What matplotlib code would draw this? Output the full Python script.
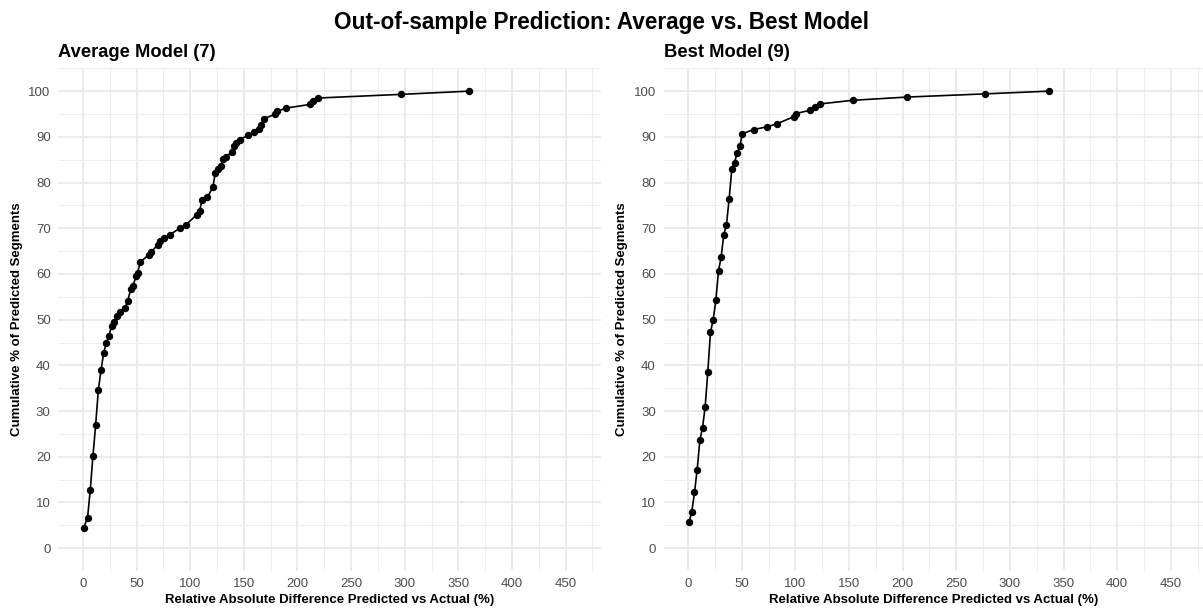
import matplotlib
matplotlib.use("Agg")
import matplotlib.pyplot as plt
from matplotlib.ticker import MultipleLocator

plt.rcParams['font.family'] = ['Liberation Sans', 'DejaVu Sans']

# Average model (7): relative abs difference (%) vs cumulative % of segments
avg_x = [0.6, 4.3, 6.8, 9.3, 11.8, 14.3, 16.8, 19.3, 21.7, 24.2, 26.7, 29.2,
         31.7, 34.2, 39.1, 41.6, 44.7, 46.6, 49.7, 50.9, 53.4, 61.5, 63.4,
         69.6, 72.0, 75.8, 81.4, 90.7, 96.3, 106.2, 108.7, 110.9, 116.1,
         121.1, 123.3, 126.0, 128.4, 131.0, 133.5, 138.5, 140.5, 143.0,
         146.0, 153.8, 159.0, 164.0, 165.6, 168.8, 178.8, 181.3, 189.4,
         211.9, 214.1, 219.4, 296.9, 360.3]
avg_y = [4.4, 6.7, 12.7, 20.2, 26.9, 34.5, 38.9, 42.7, 44.9, 46.4, 48.7, 49.4,
         50.9, 51.6, 52.5, 54.0, 56.8, 57.4, 59.6, 60.2, 62.6, 64.2, 64.7,
         66.4, 67.2, 67.9, 68.6, 70.1, 70.8, 73.0, 73.7, 76.1, 76.8,
         79.0, 82.0, 83.0, 83.6, 85.1, 85.7, 86.6, 87.9, 88.7,
         89.4, 90.3, 91.0, 91.7, 92.5, 94.0, 94.9, 95.6, 96.3,
         97.1, 97.8, 98.5, 99.3, 100.0]

# Best model (9)
best_x = [0.9, 3.4, 5.9, 8.4, 10.9, 13.4, 15.8, 18.3, 20.8, 23.3, 25.8, 28.3,
          30.7, 33.2, 35.7, 38.2, 40.7, 43.2, 45.7, 48.1, 50.6, 61.2, 73.6,
          83.2, 98.4, 100.3, 113.4, 118.0, 122.7, 153.5, 203.7, 276.3, 336.3]
best_y = [5.8, 8.0, 12.2, 17.2, 23.6, 26.4, 30.8, 38.6, 47.2, 50.0, 54.2, 60.7,
          63.6, 68.6, 70.8, 76.4, 83.0, 84.3, 86.5, 87.9, 90.7, 91.6, 92.2,
          92.9, 94.4, 95.1, 95.8, 96.5, 97.2, 98.0, 98.7, 99.4, 100.0]

W, H = 1203, 610
fig = plt.figure(figsize=(W / 100, H / 100), dpi=100)

ax1 = fig.add_axes([58.3 / W, 39 / H, 542.7 / W, 502.7 / H])
ax2 = fig.add_axes([663.5 / W, 39 / H, (W - 663.5) / W, 502.7 / H])

panels = [(ax1, avg_x, avg_y, "Average Model (7)", 483),
          (ax2, best_x, best_y, "Best Model (9)", 480)]

for ax, xs, ys, title, xmax in panels:
    ax.plot(xs, ys, color='black', lw=1.2, marker='o', markersize=4.3, zorder=3)
    ax.set_xlim(-23, xmax)
    ax.set_ylim(-5, 105)
    ax.xaxis.set_major_locator(MultipleLocator(50))
    ax.xaxis.set_minor_locator(MultipleLocator(25))
    ax.yaxis.set_major_locator(MultipleLocator(10))
    ax.yaxis.set_minor_locator(MultipleLocator(5))
    ax.grid(which='major', color='#E6E6E6', lw=1.1)
    ax.grid(which='minor', color='#EEEEEE', lw=0.8)
    ax.set_axisbelow(True)
    for s in ax.spines.values():
        s.set_visible(False)
    ax.tick_params(which='both', length=0, labelsize=9.5, labelcolor='#4D4D4D')
    ax.tick_params(axis='y', pad=5.5)
    ax.tick_params(axis='x', pad=5)
    ax.set_xlabel("Relative Absolute Difference Predicted vs Actual (%)",
                  fontsize=9.5, fontweight='bold', labelpad=3)
    ax.set_ylabel("Cumulative % of Predicted Segments",
                  fontsize=9.5, fontweight='bold', labelpad=4)
    ax.set_title(title, loc='left', fontsize=13.2, fontweight='bold', pad=8)

fig.text(0.5, 1 - 23 / H, "Out-of-sample Prediction: Average vs. Best Model",
         ha='center', va='center', fontsize=16.3, fontweight='bold')

fig.savefig("out.png", dpi=100)
